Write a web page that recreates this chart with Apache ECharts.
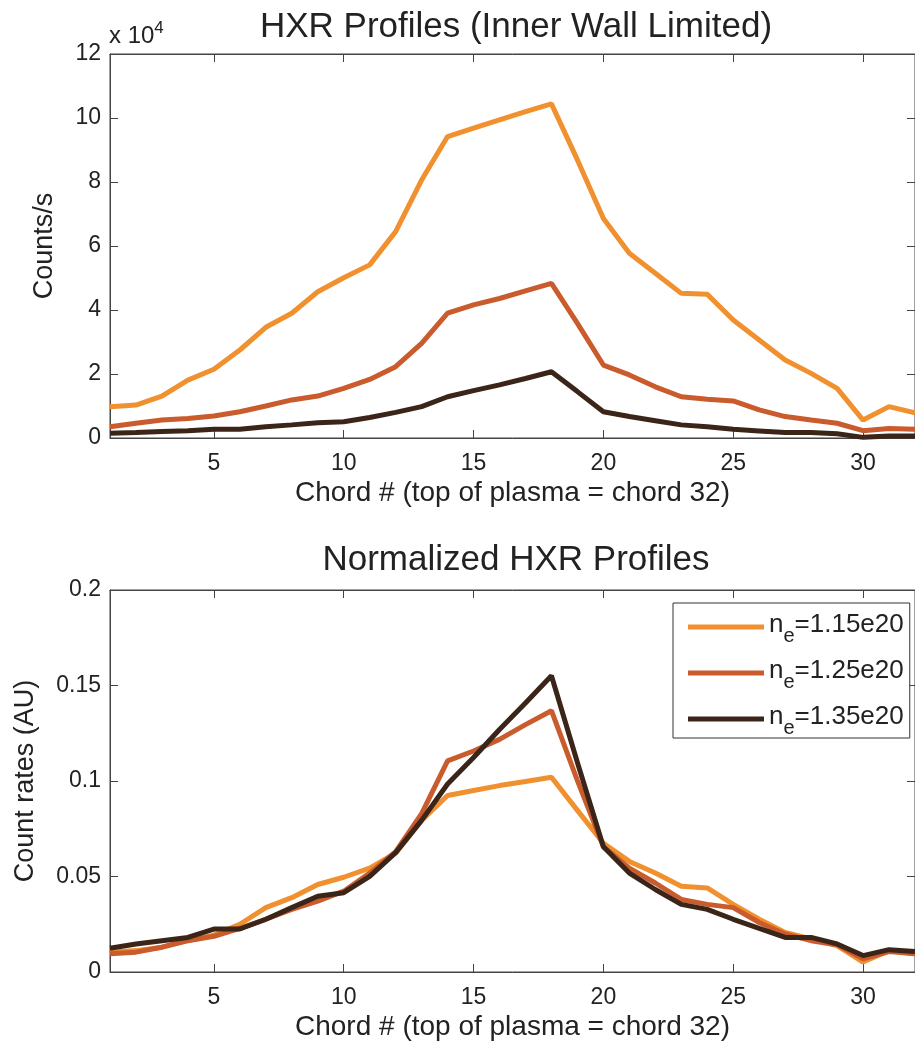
<!DOCTYPE html>
<html>
<head>
<meta charset="utf-8">
<title>HXR Profiles</title>
<script src="https://cdn.jsdelivr.net/npm/echarts@6/dist/echarts.min.js"></script>
<style>
html, body { margin: 0; padding: 0; background: #fff; }
#chart { width: 915px; height: 1046px; }
</style>
</head>
<body>
<div id="chart"></div>
<script>
// chord numbers (x values)
const chords = [1, 2, 3, 4, 5, 6, 7, 8, 9, 10, 11, 12, 13, 14, 15, 16,
    17, 18, 19, 20, 21, 22, 23, 24, 25, 26, 27, 28, 29, 30, 31, 32]
const densities = ['1.15e20', '1.25e20', '1.35e20']
const colors = ['#F0902E', '#C95B2C', '#3B2418']

// top plot, counts/s
const counts115 = [9800, 10300, 13100, 18100, 21500, 27500, 34600, 39000, 45700, 50100, 54100, 64500,
    80600, 94200, 96800, 99400, 102000, 104400, 86900, 68600, 57700, 51500, 45200, 44900,
    36900, 30600, 24400, 20200, 15500, 5600, 9800, 7900]
const counts125 = [3500, 4600, 5600, 6100, 6900, 8200, 10000, 11900, 13100, 15500, 18300, 22300,
    29600, 39000, 41600, 43600, 46000, 48300, 35800, 22800, 19700, 16000, 12900, 12100,
    11600, 8800, 6700, 5600, 4600, 2300, 3000, 2700]
const counts135 = [1500, 1700, 2000, 2300, 2700, 2700, 3500, 4100, 4800, 5100, 6400, 8000,
    9800, 12900, 14800, 16600, 18600, 20700, 14500, 8200, 6700, 5400, 4100, 3500,
    2700, 2200, 1700, 1700, 1300, 200, 600, 600]

// bottom plot, normalized count rates
const norm115 = [0.0104, 0.0112, 0.013, 0.0164, 0.0193, 0.025, 0.0337, 0.0389, 0.0458, 0.0496, 0.0544, 0.0622,
    0.0794, 0.0924, 0.095, 0.0976, 0.0997, 0.102, 0.0846, 0.0674, 0.0579, 0.0518, 0.0449, 0.044,
    0.0354, 0.0276, 0.0207, 0.0173, 0.0138, 0.0052, 0.0112, 0.0095]
const norm125 = [0.0095, 0.0104, 0.013, 0.0164, 0.0187, 0.0228, 0.0276, 0.0328, 0.0371, 0.0423, 0.0518, 0.063,
    0.0829, 0.1105, 0.1157, 0.1218, 0.1295, 0.1368, 0.1002, 0.0656, 0.0544, 0.0466, 0.038, 0.0354,
    0.0337, 0.0259, 0.0199, 0.0164, 0.0142, 0.0069, 0.0107, 0.0095]
const norm135 = [0.0124, 0.0147, 0.0164, 0.0181, 0.0225, 0.0225, 0.0276, 0.0337, 0.0397, 0.0415, 0.0501, 0.0625,
    0.0794, 0.0984, 0.1123, 0.127, 0.1408, 0.1551, 0.1097, 0.0656, 0.0518, 0.0432, 0.0354, 0.0328,
    0.0276, 0.0228, 0.0181, 0.0181, 0.0147, 0.0086, 0.0117, 0.0107]

const topTicks = [0, 2, 4, 6, 8, 10, 12]   // x 10^4
const bottomTicks = [0, 0.05, 0.1, 0.15, 0.2]

const font = "'Liberation Sans', Arial, sans-serif"
const ink = '#222'
const names = densities.map(d => 'n_e=' + d)

function pairs (vals) {
    return chords.map((c, i) => [c, vals[i]])
}

function xAx (gridIndex, pos, withLabel) {
    return {
        type: 'value', gridIndex: gridIndex, position: pos,
        min: 1, max: 32, minInterval: 5, maxInterval: 5,
        axisLine: { show: true, onZero: false, lineStyle: { color: '#444', width: 1 } },
        axisTick: { show: true, inside: true, length: 8, lineStyle: { color: '#444' } },
        axisLabel: {
            show: withLabel, margin: 14, fontSize: 23, color: ink, fontFamily: font,
            showMinLabel: false, showMaxLabel: false,
            formatter: v => (v % 5 === 0 ? String(v) : '')
        },
        splitLine: { show: false },
        name: withLabel ? 'Chord # (top of plasma = chord 32)' : '',
        nameLocation: 'middle', nameGap: 41,
        nameTextStyle: { fontSize: 28, color: ink, fontFamily: font }
    }
}

function yAx (gridIndex, pos, ticks, withLabel, name, gap, fmt) {
    return {
        type: 'value', gridIndex: gridIndex, position: pos,
        min: ticks[0], max: ticks[ticks.length - 1], interval: ticks[1] - ticks[0],
        axisLine: { show: true, lineStyle: { color: '#444', width: 1 } },
        axisTick: { show: true, inside: true, length: 8, lineStyle: { color: '#444' } },
        axisLabel: { show: withLabel, margin: 9, fontSize: 23, color: ink, fontFamily: font, formatter: fmt },
        splitLine: { show: false },
        name: withLabel ? name : '',
        nameLocation: 'middle', nameGap: gap,
        nameTextStyle: { fontSize: 27, color: ink, fontFamily: font }
    }
}

let series = []
const topData = [counts115, counts125, counts135]
const botData = [norm115, norm125, norm135]
topData.forEach((d, i) => {
    series.push({
        name: names[i], type: 'line', xAxisIndex: 0, yAxisIndex: 0,
        data: pairs(d), showSymbol: false, symbol: 'none', color: colors[i],
        lineStyle: { width: 5, color: colors[i] }, z: 3 + i
    })
})
botData.forEach((d, i) => {
    series.push({
        name: names[i], type: 'line', xAxisIndex: 2, yAxisIndex: 2,
        data: pairs(d), showSymbol: false, symbol: 'none', color: colors[i],
        lineStyle: { width: 5, color: colors[i] }, z: 3 + i
    })
})

let myChart = echarts.init(document.getElementById('chart'), null, { renderer: 'canvas' })
let option = {
    backgroundColor: '#fff',
    animation: false,
    textStyle: { fontFamily: font },
    title: [{
        text: 'HXR Profiles (Inner Wall Limited)',
        left: 516, top: 10, textAlign: 'center', padding: 0,
        textStyle: { fontSize: 35, fontWeight: 'normal', color: ink, fontFamily: font }
    }, {
        text: '{a|x 10}{b|4}',
        left: 109, top: 20, padding: 0,
        textStyle: {
            fontWeight: 'normal',
            rich: {
                a: { fontSize: 24, fontWeight: 'normal', color: ink, fontFamily: font },
                b: { fontSize: 17, fontWeight: 'normal', color: ink, fontFamily: font, padding: [0, 0, 15, 0] }
            }
        }
    }, {
        text: 'Normalized HXR Profiles',
        left: 516, top: 543, textAlign: 'center', padding: 0,
        textStyle: { fontSize: 35, fontWeight: 'normal', color: ink, fontFamily: font }
    }],
    legend: {
        data: names,
        orient: 'vertical',
        left: 673, top: 603,
        padding: [9, 6, 0, 15],
        itemGap: 12,
        itemWidth: 76, itemHeight: 5,
        icon: 'rect',
        backgroundColor: '#fff',
        borderColor: '#333', borderWidth: 1,
        formatter: name => '{n|n}{e|e}{v|=' + name.split('=')[1] + '}',
        textStyle: {
            color: ink,
            rich: {
                n: { fontSize: 26, color: ink, fontFamily: font, padding: [0, 0, 4, 0] },
                e: { fontSize: 20, color: ink, fontFamily: font, padding: [18, 0, 0, 0] },
                v: { fontSize: 26, color: ink, fontFamily: font, padding: [0, 0, 4, 0] }
            }
        }
    },
    grid: [
        { left: 110, top: 54, width: 806, height: 384, show: true, borderColor: '#444', borderWidth: 1, backgroundColor: 'transparent' },
        { left: 110, top: 590, width: 806, height: 382, show: true, borderColor: '#444', borderWidth: 1, backgroundColor: 'transparent' }
    ],
    xAxis: [
        xAx(0, 'bottom', true),
        xAx(0, 'top', false),
        xAx(1, 'bottom', true),
        xAx(1, 'top', false)
    ],
    yAxis: [
        yAx(0, 'left', topTicks.map(v => v * 10000), true, 'Counts/s', 52, v => String(v / 10000)),
        yAx(0, 'right', topTicks.map(v => v * 10000), false, '', 0, null),
        yAx(1, 'left', bottomTicks, true, 'Count rates (AU)', 71, v => String(+v.toFixed(2))),
        yAx(1, 'right', bottomTicks, false, '', 0, null)
    ],
    series: series
}
myChart.setOption(option)
window.addEventListener('resize', function () {
    myChart.resize()
})
</script>
</body>
</html>
